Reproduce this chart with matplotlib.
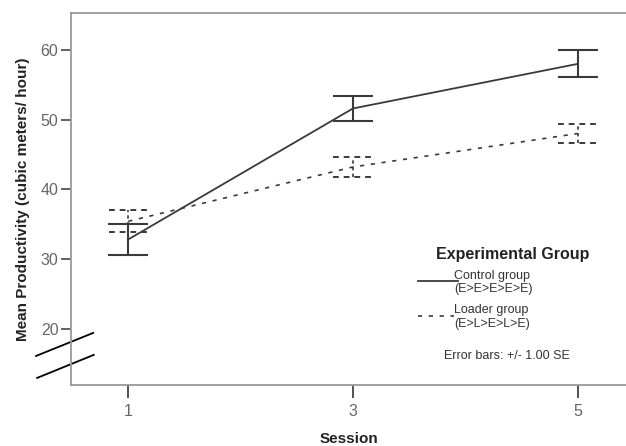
import matplotlib
matplotlib.use("Agg")
import matplotlib.pyplot as plt
import numpy as np

plt.rcParams['font.family'] = ['Liberation Sans', 'DejaVu Sans']

sessions = [1, 3, 5]
control_mean = [32.8, 51.6, 58.0]
control_se = [2.2, 1.75, 1.95]
loader_mean = [35.4, 43.2, 48.0]
loader_se = [1.6, 1.5, 1.3]

fig = plt.figure(figsize=(6.26, 4.46), dpi=100)
ax = fig.add_axes([0.1134, 0.1368, 0.8866, 0.834])

# control group: solid line with capped error bars
ax.errorbar(sessions, control_mean, yerr=control_se, color='#3a3a3a', lw=1.3,
            elinewidth=1.5, capsize=14.5, capthick=1.5, zorder=3)

# loader group: dashed line, dashed error bars
ax.plot(sessions, loader_mean, color='#3a3a3a', lw=1.2, ls=(0, (2.5, 4)), zorder=3)
cw = 0.175
lm = np.array(loader_mean)
ls_ = np.array(loader_se)
ax.vlines(sessions, lm - ls_, lm + ls_, color='#3a3a3a', lw=1.2, ls=(0, (2, 2)))
ax.hlines(lm + ls_, np.array(sessions) - cw, np.array(sessions) + cw,
          color='#3a3a3a', lw=1.4, ls=(0, (3, 2.5)))
ax.hlines(lm - ls_, np.array(sessions) - cw, np.array(sessions) + cw,
          color='#3a3a3a', lw=1.4, ls=(0, (3, 2.5)))

ax.set_xlim(0.49, 5.43)
ax.set_ylim(11.9, 65.3)
ax.set_xticks(sessions)
ax.set_yticks([20, 30, 40, 50, 60])

for s in ['left', 'bottom', 'top']:
    ax.spines[s].set_color('#9a9a9a')
    ax.spines[s].set_linewidth(1.3)
ax.spines['right'].set_visible(False)

ax.tick_params(axis='y', direction='out', length=7, width=1.3, color='#555555',
               labelcolor='#666666', labelsize=11.5, pad=2)
ax.tick_params(axis='x', direction='out', length=9, width=1.3, color='#444444',
               labelcolor='#666666', labelsize=11.5, pad=5)

ax.set_ylabel('Mean Productivity (cubic meters/ hour)', fontsize=11,
              fontweight='bold', color='#222222', labelpad=8)
ax.set_xlabel('Session', fontsize=11, fontweight='bold', color='#222222',
              labelpad=9)

# axis break marks
kw = dict(transform=ax.transAxes, color='black', lw=1.3, clip_on=False)
ax.plot([-0.063, 0.040], [0.078, 0.140], **kw)
ax.plot([-0.061, 0.041], [0.019, 0.081], **kw)

# legend drawn as text
ax.text(0.658, 0.351, 'Experimental Group', transform=ax.transAxes,
        fontsize=11.5, fontweight='bold', color='#222222', va='center')
ax.plot([0.625, 0.697], [0.280, 0.280], transform=ax.transAxes,
        color='#3a3a3a', lw=1.3)
ax.text(0.690, 0.275, 'Control group\n(E>E>E>E>E)', transform=ax.transAxes,
        fontsize=9, color='#333333', va='center', linespacing=1.15)
ax.plot([0.625, 0.690], [0.186, 0.186], transform=ax.transAxes,
        color='#3a3a3a', lw=1.2, ls=(0, (2.5, 4)))
ax.text(0.690, 0.183, 'Loader group\n(E>L>E>L>E)', transform=ax.transAxes,
        fontsize=9, color='#333333', va='center', linespacing=1.15)
ax.text(0.672, 0.078, 'Error bars: +/- 1.00 SE', transform=ax.transAxes,
        fontsize=9, color='#333333', va='center')

fig.savefig('out.png', dpi=100)
